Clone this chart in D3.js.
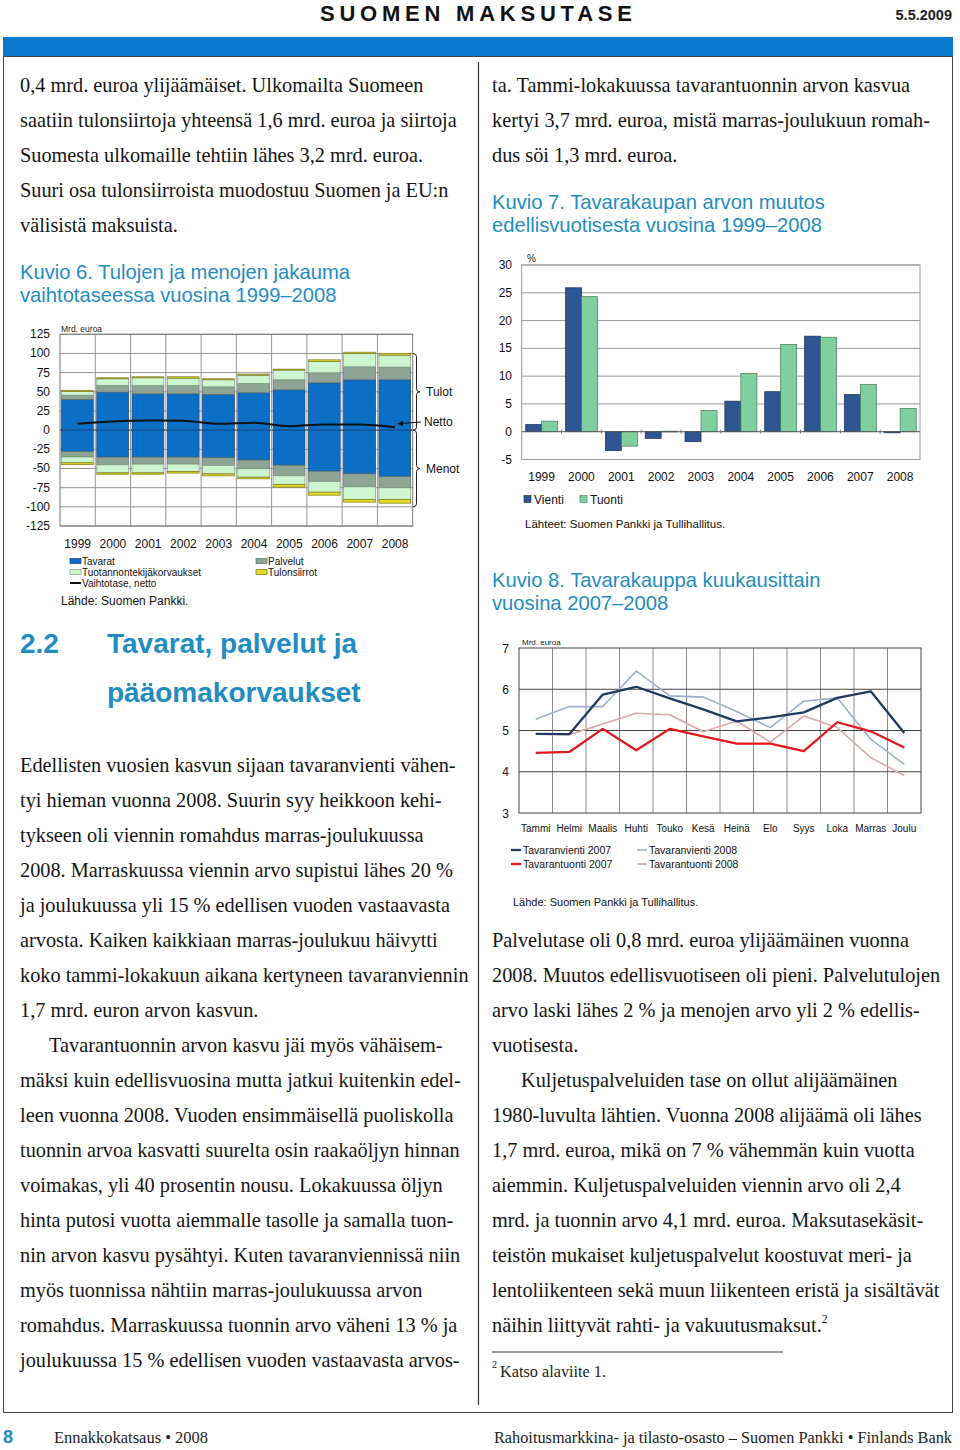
<!DOCTYPE html>
<html><head><meta charset="utf-8">
<script src="https://cdn.jsdelivr.net/npm/d3@7"></script>
<style>body{margin:0;background:#fff}svg{display:block}</style>
</head><body>
<svg id="page" width="960" height="1450"></svg>
<script>
// ---------- DATA ----------
// Kuvio 6: Tulojen ja menojen jakauma (mrd. euroa)
const years = ['1999','2000','2001','2002','2003','2004','2005','2006','2007','2008'];
const tavaratTulot   = [40.0, 49.6, 47.4, 47.4, 46.5, 48.7, 52.6, 61.7, 65.7, 65.7];
const palvelutTulot  = [5.6, 8.7, 10.9, 10.9, 10.0, 12.2, 13.1, 13.1, 16.9, 16.5];
const tuotTulot      = [4.8, 8.7, 10.0, 9.5, 9.2, 10.8, 12.6, 14.8, 17.4, 15.6];
const siirrotTulot   = [1.6, 1.3, 1.3, 1.8, 1.3, 1.3, 1.3, 2.1, 1.7, 2.2];
const tavaratMenot   = [-28.0, -35.2, -35.2, -35.2, -36.0, -39.0, -45.7, -53.5, -57.0, -60.4];
const palvelutMenot  = [-7.0, -10.0, -9.1, -9.1, -10.0, -11.4, -13.9, -13.5, -16.9, -14.8];
const tuotMenot      = [-7.6, -10.5, -11.4, -9.7, -11.0, -10.9, -11.3, -13.9, -16.5, -15.2];
const siirrotMenot   = [-2.4, -1.7, -1.7, -2.0, -2.6, -2.2, -3.4, -3.9, -3.5, -4.8];
const vaihtotaseNetto= [8.3, 11.3, 12.6, 12.2, 8.3, 9.6, 5.2, 7.4, 7.4, 3.9];
const k6Ticks = [125, 100, 75, 50, 25, 0, -25, -50, -75, -100, -125];
const k6Series = ['Tavarat','Palvelut','Tuotannontekijäkorvaukset','Tulonsiirrot'];

// Kuvio 7: Tavarakaupan arvon muutos (%)
const vienti = [1.3, 25.9, -3.4, -1.2, -1.8, 5.5, 7.2, 17.2, 6.7, -0.2];
const tuonti = [1.9, 24.3, -2.6, 0.1, 3.8, 10.5, 15.7, 17.0, 8.5, 4.2];
const k7Ticks = [30, 25, 20, 15, 10, 5, 0, -5];

// Kuvio 8: Tavarakauppa kuukausittain (mrd. euroa)
const months = ['Tammi','Helmi','Maalis','Huhti','Touko','Kesä','Heinä','Elo','Syys','Loka','Marras','Joulu'];
const vienti2007 = [4.92, 4.91, 5.87, 6.06, 5.78, 5.51, 5.22, 5.32, 5.44, 5.79, 5.95, 4.94];
const tuonti2007 = [4.46, 4.48, 5.04, 4.52, 5.04, 4.86, 4.68, 4.68, 4.50, 5.20, 4.98, 4.59];
const vienti2008 = [5.27, 5.58, 5.58, 6.44, 5.84, 5.81, 5.46, 5.07, 5.71, 5.79, 4.79, 4.18];
const tuonti2008 = [4.91, 4.90, 5.16, 5.42, 5.38, 4.97, 5.23, 4.72, 5.35, 5.07, 4.34, 3.91];
const k8Ticks = [7, 6, 5, 4, 3];

// Text
const leftTop = [
 '0,4 mrd. euroa ylijäämäiset. Ulkomailta Suomeen',
 'saatiin tulonsiirtoja yhteensä 1,6 mrd. euroa ja siirtoja',
 'Suomesta ulkomaille tehtiin lähes 3,2 mrd. euroa.',
 'Suuri osa tulonsiirroista muodostuu Suomen ja EU:n',
 'välisistä maksuista.'];
const rightTop = [
 'ta. Tammi-lokakuussa tavarantuonnin arvon kasvua',
 'kertyi 3,7 mrd. euroa, mistä marras-joulukuun romah-',
 'dus söi 1,3 mrd. euroa.'];
const leftBody = [
 'Edellisten vuosien kasvun sijaan tavaranvienti vähen-',
 'tyi hieman vuonna 2008. Suurin syy heikkoon kehi-',
 'tykseen oli viennin romahdus marras-joulukuussa',
 '2008. Marraskuussa viennin arvo supistui lähes 20 %',
 'ja joulukuussa yli 15 % edellisen vuoden vastaavasta',
 'arvosta. Kaiken kaikkiaan marras-joulukuu häivytti',
 'koko tammi-lokakuun aikana kertyneen tavaranviennin',
 '1,7 mrd. euron arvon kasvun.',
 '\tTavarantuonnin arvon kasvu jäi myös vähäisem-',
 'mäksi kuin edellisvuosina mutta jatkui kuitenkin edel-',
 'leen vuonna 2008. Vuoden ensimmäisellä puoliskolla',
 'tuonnin arvoa kasvatti suurelta osin raakaöljyn hinnan',
 'voimakas, yli 40 prosentin nousu. Lokakuussa öljyn',
 'hinta putosi vuotta aiemmalle tasolle ja samalla tuon-',
 'nin arvon kasvu pysähtyi. Kuten tavaranviennissä niin',
 'myös tuonnissa nähtiin marras-joulukuussa arvon',
 'romahdus. Marraskuussa tuonnin arvo väheni 13 % ja',
 'joulukuussa 15 % edellisen vuoden vastaavasta arvos-'];
const rightBody = [
 'Palvelutase oli 0,8 mrd. euroa ylijäämäinen vuonna',
 '2008. Muutos edellisvuotiseen oli pieni. Palvelutulojen',
 'arvo laski lähes 2 % ja menojen arvo yli 2 % edellis-',
 'vuotisesta.',
 '\tKuljetuspalveluiden tase on ollut alijäämäinen',
 '1980-luvulta lähtien. Vuonna 2008 alijäämä oli lähes',
 '1,7 mrd. euroa, mikä on 7 % vähemmän kuin vuotta',
 'aiemmin. Kuljetuspalveluiden viennin arvo oli 2,4',
 'mrd. ja tuonnin arvo 4,1 mrd. euroa. Maksutasekäsit-',
 'teistön mukaiset kuljetuspalvelut koostuvat meri- ja',
 'lentoliikenteen sekä muun liikenteen eristä ja sisältävät',
 'näihin liittyvät rahti- ja vakuutusmaksut.'];

// ---------- STYLE ----------
const SERIF = "'Liberation Serif','Times New Roman',serif";
const SANS = "'Liberation Sans',Arial,sans-serif";
const TEAL = '#1f8cc2';
const svg = d3.select('#page');

// ---------- PAGE FRAME ----------
svg.append('text').attr('x',320).attr('y',21).attr('font-family',SANS).attr('font-weight','bold')
  .attr('font-size',22).attr('textLength',312).attr('lengthAdjust','spacing').attr('fill','#111').text('SUOMEN MAKSUTASE');
svg.append('text').attr('x',952).attr('y',20).attr('text-anchor','end').attr('font-family',SANS).attr('font-weight','bold')
  .attr('font-size',14.5).attr('fill','#222').text('5.5.2009');
svg.append('rect').attr('x',3).attr('y',37).attr('width',950).attr('height',19).attr('fill','#0a78cc');
svg.append('rect').attr('x',3.5).attr('y',56.5).attr('width',949).attr('height',1356).attr('fill','none').attr('stroke','#444').attr('stroke-width',1);
svg.append('line').attr('x1',478.5).attr('x2',478.5).attr('y1',62).attr('y2',1405).attr('stroke','#333').attr('stroke-width',1.2);

// ---------- BODY TEXT ----------
const measure = svg.append('text').attr('font-family',SERIF).attr('font-size',21).text(leftBody[0]);
const sx = 436 / measure.node().getComputedTextLength();
measure.remove();
function para(lines, x0, firstBaseline, lh){
  lines.forEach((l,i)=>{
    const indent = l.startsWith('\t');
    const txt = l.replace('\t','');
    const t = svg.append('text').attr('font-family',SERIF).attr('font-size',21).attr('fill','#151515')
      .attr('transform',`translate(${x0 + (indent?29:0)},${firstBaseline + i*lh}) scale(${sx},1)`).text(txt);
    if (txt === 'näihin liittyvät rahti- ja vakuutusmaksut.') {
      t.append('tspan').attr('font-size',12).attr('dy',-9).text('2');
    }
  });
}
para(leftTop, 20, 92, 35);
para(rightTop, 492, 92, 35);
para(leftBody, 20, 772, 35);
para(rightBody, 492, 947, 35);

// titles
function title(lines, x, y, lh){
  lines.forEach((l,i)=> svg.append('text').attr('x',x).attr('y',y+i*lh).attr('font-family',SANS)
    .attr('font-size',20.2).attr('fill',TEAL).text(l));
}
title(['Kuvio 6. Tulojen ja menojen jakauma','vaihtotaseessa vuosina 1999–2008'], 20, 279, 23);
title(['Kuvio 7. Tavarakaupan arvon muutos','edellisvuotisesta vuosina 1999–2008'], 492, 209, 23);
title(['Kuvio 8. Tavarakauppa kuukausittain','vuosina 2007–2008'], 492, 587, 23);

// heading
[['2.2',20,653],['Tavarat, palvelut ja',107,653],['pääomakorvaukset',107,702]].forEach(([t,hx,hy])=>
  svg.append('text').attr('x',hx).attr('y',hy).attr('font-family',SANS).attr('font-weight','bold').attr('font-size',28).attr('fill',TEAL).text(t));

// footnote
svg.append('line').attr('x1',492).attr('x2',783).attr('y1',1352).attr('y2',1352).attr('stroke','#333').attr('stroke-width',1.2);
svg.append('text').attr('x',492).attr('y',1368).attr('font-family',SERIF).attr('font-size',10).attr('fill','#222').text('2');
svg.append('text').attr('x',500).attr('y',1377).attr('font-family',SERIF).attr('font-size',16).attr('fill','#222')
  .attr('textLength',106).attr('lengthAdjust','spacingAndGlyphs').text('Katso alaviite 1.');

// footer
svg.append('text').attr('x',3).attr('y',1443).attr('font-family',SANS).attr('font-weight','bold').attr('font-size',18).attr('fill',TEAL).text('8');
svg.append('text').attr('x',54).attr('y',1443).attr('font-family',SERIF).attr('font-size',16).attr('fill','#222')
  .attr('textLength',154).attr('lengthAdjust','spacingAndGlyphs').text('Ennakkokatsaus • 2008');
svg.append('text').attr('x',494).attr('y',1443).attr('font-family',SERIF).attr('font-size',16).attr('fill','#222')
  .attr('textLength',458).attr('lengthAdjust','spacingAndGlyphs').text('Rahoitusmarkkina- ja tilasto-osasto – Suomen Pankki • Finlands Bank');

// ---------- KUVIO 6 ----------
(function(){
  const g = svg.append('g');
  const x = d3.scaleBand().domain(years).range([60, 412.7]).padding(0);
  const y = d3.scaleLinear().domain([-125, 125]).range([526, 334.3]);
  // grid
  g.append('g').selectAll('line').data(k6Ticks).join('line')
    .attr('x1',60).attr('x2',412.7).attr('y1',d=>y(d)).attr('y2',d=>y(d))
    .attr('stroke',d=>d===0?'#333':'#8a8a8a').attr('stroke-width',d=>d===0?1.2:0.9);
  g.append('g').selectAll('line').data(years.slice(1)).join('line')
    .attr('x1',d=>x(d)).attr('x2',d=>x(d)).attr('y1',y(125)).attr('y2',y(-125))
    .attr('stroke','#8a8a8a').attr('stroke-width',0.9);
  g.append('rect').attr('x',60).attr('y',y(125)).attr('width',352.7).attr('height',y(-125)-y(125))
    .attr('fill','none').attr('stroke','#777').attr('stroke-width',1);
  const fills = ['#0b6fc6','#8ea596','#cdf5cf','#e3dc22'];
  const strokes = ['#1c3f78','#5e6e64','#7e9a80','#7a7620'];
  const pos = [tavaratTulot, palvelutTulot, tuotTulot, siirrotTulot];
  const neg = [tavaratMenot, palvelutMenot, tuotMenot, siirrotMenot];
  const segs = [];
  years.forEach((yr, i) => {
    let c = 0;
    pos.forEach((s, k) => { segs.push({yr, k, y0:c, y1:c+s[i]}); c += s[i]; });
    c = 0;
    neg.forEach((s, k) => { segs.push({yr, k, y0:c, y1:c+s[i]}); c += s[i]; });
  });
  g.append('g').selectAll('rect').data(segs).join('rect')
    .attr('x', d => x(d.yr) + 1.5).attr('width', x.bandwidth() - 3.5)
    .attr('y', d => y(Math.max(d.y0, d.y1))).attr('height', d => Math.abs(y(d.y0) - y(d.y1)))
    .attr('fill', d => fills[d.k]).attr('stroke', d => strokes[d.k]).attr('stroke-width', 0.7);
  // netto line
  g.append('path').datum(vaihtotaseNetto)
    .attr('d', d3.line().x((d,i)=>x(years[i]) + x.bandwidth()/2).y(d=>y(d)).curve(d3.curveMonotoneX))
    .attr('fill','none').attr('stroke','#111').attr('stroke-width',2);
  // axis labels
  g.append('g').selectAll('text').data(k6Ticks).join('text')
    .attr('x',50).attr('y',d=>y(d)+4).attr('text-anchor','end').attr('font-family',SANS).attr('font-size',12).attr('fill','#111')
    .text(d=>d);
  g.append('g').selectAll('text').data(years).join('text')
    .attr('x',d=>x(d)+x.bandwidth()/2).attr('y',548).attr('text-anchor','middle').attr('font-family',SANS).attr('font-size',12).attr('fill','#111')
    .text(d=>d);
  g.append('text').attr('x',61).attr('y',332).attr('font-family',SANS).attr('font-size',8.5).attr('fill','#222').text('Mrd. euroa');
  // braces
  function brace(xb, y1, y2){
    const w = 3.5, ym = (y1+y2)/2, r = 3;
    return `M${xb},${y1} Q${xb+w},${y1} ${xb+w},${y1+r} L${xb+w},${ym-r} Q${xb+w},${ym} ${xb+2*w},${ym} Q${xb+w},${ym} ${xb+w},${ym+r} L${xb+w},${y2-r} Q${xb+w},${y2} ${xb},${y2}`;
  }
  g.append('path').attr('d',brace(413, y(100), y(0))).attr('fill','none').attr('stroke','#222').attr('stroke-width',1);
  g.append('path').attr('d',brace(413, y(0), y(-100))).attr('fill','none').attr('stroke','#222').attr('stroke-width',1);
  g.append('text').attr('x',426).attr('y',396).attr('font-family',SANS).attr('font-size',12).attr('fill','#111').text('Tulot');
  g.append('text').attr('x',424).attr('y',426).attr('font-family',SANS).attr('font-size',12).attr('fill','#111').text('Netto');
  g.append('text').attr('x',426).attr('y',473).attr('font-family',SANS).attr('font-size',12).attr('fill','#111').text('Menot');
  // arrow
  g.append('line').attr('x1',421).attr('y1',422).attr('x2',401).attr('y2',423.5).attr('stroke','#111').attr('stroke-width',1);
  g.append('path').attr('d','M397,423.8 L403,421 L403,426 Z').attr('fill','#111');
  // legend
  const L = g.append('g').attr('font-family',SANS).attr('font-size',10).attr('fill','#111');
  const leg = [
    {t:'Tavarat', x:70, y:561, k:0}, {t:'Palvelut', x:256, y:561, k:1},
    {t:'Tuotannontekijäkorvaukset', x:70, y:572, k:2}, {t:'Tulonsiirrot', x:256, y:572, k:3}];
  leg.forEach(d=>{
    L.append('rect').attr('x',d.x).attr('y',d.y-2.5).attr('width',11).attr('height',5).attr('fill',fills[d.k]).attr('stroke',strokes[d.k]).attr('stroke-width',0.7);
    L.append('text').attr('x',d.x+12).attr('y',d.y+3.5).text(d.t);
  });
  L.append('line').attr('x1',70).attr('x2',81).attr('y1',583).attr('y2',583).attr('stroke','#111').attr('stroke-width',2);
  L.append('text').attr('x',82).attr('y',586.5).text('Vaihtotase, netto');
  g.append('text').attr('x',61).attr('y',604.5).attr('font-family',SANS).attr('font-size',12).attr('fill','#111').text('Lähde: Suomen Pankki.');
})();

// ---------- KUVIO 7 ----------
(function(){
  const g = svg.append('g');
  const x = d3.scaleBand().domain(years).range([521.7, 920]).padding(0);
  const xi = d3.scaleBand().domain(['Vienti','Tuonti']).range([4, x.bandwidth()-3.8]).padding(0);
  const y = d3.scaleLinear().domain([-5, 30]).range([459.5, 265]);
  g.append('g').selectAll('line').data(k7Ticks.filter(d=>d>0)).join('line')
    .attr('x1',521.7).attr('x2',920).attr('y1',d=>y(d)).attr('y2',d=>y(d)).attr('stroke','#9a9a9a').attr('stroke-width',1);
  g.append('rect').attr('x',521.7).attr('y',y(30)).attr('width',398.3).attr('height',y(-5)-y(30))
    .attr('fill','none').attr('stroke','#9a9a9a').attr('stroke-width',1);
  const cols = {Vienti:'#2f5592', Tuonti:'#80cfa0'};
  const strk = {Vienti:'#1a2f55', Tuonti:'#3f7a58'};
  const data = [];
  years.forEach((yr,i)=>{ data.push({yr,s:'Vienti',v:vienti[i]}); data.push({yr,s:'Tuonti',v:tuonti[i]}); });
  g.append('g').selectAll('rect').data(data).join('rect')
    .attr('x',d=>x(d.yr)+xi(d.s)).attr('width',xi.bandwidth())
    .attr('y',d=>y(Math.max(0,d.v))).attr('height',d=>Math.max(0.8,Math.abs(y(d.v)-y(0))))
    .attr('fill',d=>cols[d.s]).attr('stroke',d=>strk[d.s]).attr('stroke-width',0.7);
  g.append('line').attr('x1',521.7).attr('x2',920).attr('y1',y(0)).attr('y2',y(0)).attr('stroke','#555').attr('stroke-width',1);
  g.append('g').selectAll('line').data(years.slice(1)).join('line')
    .attr('x1',d=>x(d)).attr('x2',d=>x(d)).attr('y1',y(0)-2).attr('y2',y(0)+2).attr('stroke','#777');
  g.append('g').selectAll('text').data(k7Ticks).join('text')
    .attr('x',512).attr('y',d=>y(d)+4).attr('text-anchor','end').attr('font-family',SANS).attr('font-size',12).attr('fill','#111').text(d=>d);
  g.append('text').attr('x',527).attr('y',262).attr('font-family',SANS).attr('font-size',10).attr('fill','#222').text('%');
  g.append('g').selectAll('text').data(years).join('text')
    .attr('x',d=>x(d)+x.bandwidth()/2).attr('y',481).attr('text-anchor','middle').attr('font-family',SANS).attr('font-size',12).attr('fill','#111').text(d=>d);
  [['Vienti',524],['Tuonti',580]].forEach(([s,lx])=>{
    g.append('rect').attr('x',lx).attr('y',495.5).attr('width',7).attr('height',7).attr('fill',cols[s]).attr('stroke',strk[s]).attr('stroke-width',0.6);
    g.append('text').attr('x',lx+10).attr('y',503.5).attr('font-family',SANS).attr('font-size',12).attr('fill','#111').text(s);
  });
  g.append('text').attr('x',525).attr('y',528).attr('font-family',SANS).attr('font-size',11.5).attr('fill','#111').text('Lähteet: Suomen Pankki ja Tullihallitus.');
})();

// ---------- KUVIO 8 ----------
(function(){
  const g = svg.append('g');
  const x = d3.scaleBand().domain(months).range([519, 921]).padding(0);
  const y = d3.scaleLinear().domain([3, 7]).range([813, 648]);
  g.append('g').selectAll('line').data(months.slice(1)).join('line')
    .attr('x1',d=>x(d)).attr('x2',d=>x(d)).attr('y1',y(7)).attr('y2',y(3)).attr('stroke','#8c8c8c').attr('stroke-width',1);
  g.append('g').selectAll('line').data(k8Ticks.slice(1,4)).join('line')
    .attr('x1',519).attr('x2',921).attr('y1',d=>y(d)).attr('y2',d=>y(d)).attr('stroke','#444').attr('stroke-width',1);
  g.append('rect').attr('x',519).attr('y',y(7)).attr('width',402).attr('height',y(3)-y(7))
    .attr('fill','none').attr('stroke','#444').attr('stroke-width',1);
  const series = [
    {name:'Tavaranvienti 2008', v:vienti2008, c:'#9cb0cf', w:1.6},
    {name:'Tavarantuonti 2008', v:tuonti2008, c:'#d9a8a8', w:1.6},
    {name:'Tavaranvienti 2007', v:vienti2007, c:'#1f3a63', w:2.3},
    {name:'Tavarantuonti 2007', v:tuonti2007, c:'#e3161b', w:2.3}];
  const line = d3.line().x((d,i)=>x(months[i])+x.bandwidth()/2).y(d=>y(d));
  series.forEach(s=>{
    g.append('path').datum(s.v).attr('d',line).attr('fill','none').attr('stroke',s.c).attr('stroke-width',s.w).attr('stroke-linejoin','round');
  });
  g.append('g').selectAll('text').data(k8Ticks).join('text')
    .attr('x',509).attr('y',d=>y(d)+4.5).attr('text-anchor','end').attr('font-family',SANS).attr('font-size',12).attr('fill','#111').text(d=>d);
  g.append('text').attr('x',522).attr('y',645).attr('font-family',SANS).attr('font-size',8).attr('fill','#222').text('Mrd. euroa');
  g.append('g').selectAll('text').data(months).join('text')
    .attr('x',d=>x(d)+x.bandwidth()/2).attr('y',832).attr('text-anchor','middle').attr('font-family',SANS).attr('font-size',10).attr('fill','#111').text(d=>d);
  const legPos = {'Tavaranvienti 2007':[511,850],'Tavarantuonti 2007':[511,864],'Tavaranvienti 2008':[637,850],'Tavarantuonti 2008':[637,864]};
  series.forEach(s=>{
    const [lx,ly] = legPos[s.name];
    g.append('line').attr('x1',lx).attr('x2',lx+10).attr('y1',ly).attr('y2',ly).attr('stroke',s.c).attr('stroke-width',s.w);
    g.append('text').attr('x',lx+12).attr('y',ly+3.8).attr('font-family',SANS).attr('font-size',10.5).attr('fill','#111').text(s.name);
  });
  g.append('text').attr('x',513).attr('y',906).attr('font-family',SANS).attr('font-size',11).attr('fill','#111').text('Lähde: Suomen Pankki ja Tullihallitus.');
})();
</script>
</body></html>
